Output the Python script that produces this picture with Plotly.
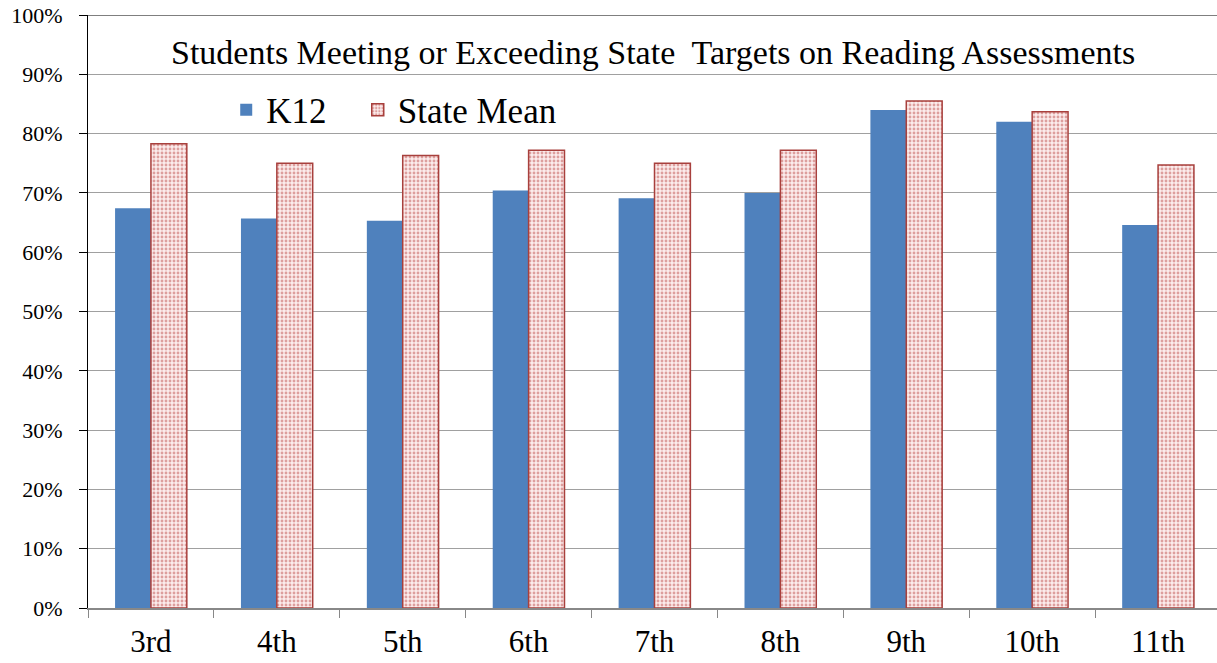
import plotly.graph_objects as go

grades = ["3rd", "4th", "5th", "6th", "7th", "8th", "9th", "10th", "11th"]
k12 = [0.674, 0.657, 0.653, 0.704, 0.691, 0.700, 0.840, 0.820, 0.646]
state_mean = [0.783, 0.750, 0.763, 0.772, 0.750, 0.772, 0.855, 0.837, 0.747]
series_names = ["K12", "State Mean"]
title_text = "Students Meeting or Exceeding State  Targets on Reading Assessments"

FONT = "Liberation Serif"

fig = go.Figure()
fig.add_trace(go.Bar(
    x=grades, y=k12, name=series_names[0] + "\u00a0\u00a0\u00a0",
    marker=dict(color="#4F81BD", line=dict(width=0)),
))
fig.add_trace(go.Bar(
    x=grades, y=state_mean, name=series_names[1],
    marker=dict(
        color="white",
        line=dict(color="#A8403D", width=1.5),
        pattern=dict(shape=".", fgcolor="#C0504D", bgcolor="#FBECEC", size=4, solidity=0.4),
    ),
))

fig.add_annotation(
    text=title_text, x=0.499, y=0.9376, xref="paper", yref="paper",
    showarrow=False, font=dict(family=FONT, size=34, color="black"),
    xanchor="center", yanchor="middle",
)
fig.add_shape(type="line", xref="paper", yref="y", x0=0, x1=1, y0=1, y1=1,
              line=dict(color="black", width=1.2))

fig.update_layout(
    width=1221, height=663,
    margin=dict(l=88, r=0, t=15, b=55, autoexpand=False),
    paper_bgcolor="white", plot_bgcolor="white",
    barmode="group", bargap=0.43, bargroupgap=0,
    font=dict(family=FONT, color="black"),
    legend=dict(
        orientation="h", x=0.122, y=0.84, xanchor="left", yanchor="middle",
        font=dict(family=FONT, size=35, color="black"),
        bgcolor="rgba(0,0,0,0)", itemwidth=30, tracegroupgap=0,
    ),
    xaxis=dict(
        showline=True, linecolor="#888888", linewidth=1.5,
        ticks="outside", tickson="boundaries", ticklen=8, tickcolor="#888888",
        tickfont=dict(family=FONT, size=31, color="black"),
        ticklabelstandoff=5,
        showgrid=False,
    ),
    yaxis=dict(
        range=[0, 1], dtick=0.1, tickformat=".0%",
        showline=True, linecolor="black", linewidth=1.2,
        ticks="outside", ticklen=8, tickcolor="black",
        tickfont=dict(family=FONT, size=22, color="black"),
        ticklabelstandoff=12,
        showgrid=True, gridcolor="#A0A0A0", gridwidth=1.2,
        zeroline=False,
    ),
)

fig.write_html(
    "out.html",
    config={"displayModeBar": False},
    post_script="document.body.style.margin='0';document.body.style.overflow='hidden';",
)
